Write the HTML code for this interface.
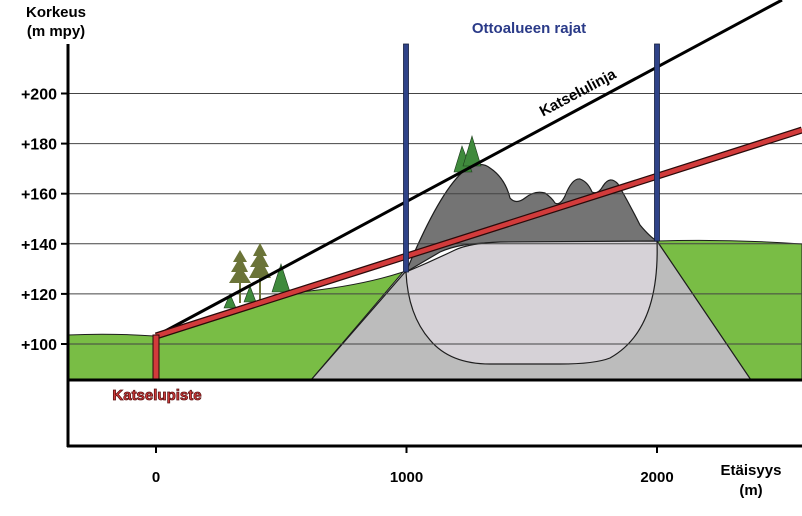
<!DOCTYPE html>
<html><head><meta charset="utf-8">
<style>
html,body{margin:0;padding:0;background:#fff;}
svg{display:block;font-family:"Liberation Sans","DejaVu Sans",sans-serif;}
</style></head>
<body>
<svg id="chart" width="802" height="516" viewBox="0 0 802 516">
  <g id="terrain">
    <path d="M68,335 Q110,333 154,336 L300,292 Q360,286 403,272 L311,380 L68,380 Z" fill="#79bd45" stroke="#1d1d1d" stroke-width="1"/>
    <path d="M657,241 Q730,239 802,244 L802,380 L751,380 Z" fill="#79bd45" stroke="#1d1d1d" stroke-width="1"/>
    <path d="M311,380 L406,271 L657,241 L751,380 Z" fill="#bcbcbc" stroke="#1d1d1d" stroke-width="1.2"/>
    <path d="M406,272 Q440,190 465,170 Q480,160 490,168 Q505,178 510,198 Q516,205 525,198 Q535,190 545,193 Q552,198 555,203 Q560,206 565,196 Q572,178 580,179 Q588,182 592,192 Q598,195 603,186 Q610,175 618,184 Q630,205 640,225 Q650,237 657,241 L490,243 Q460,243 440,252 Z" fill="#747474" stroke="#1d1d1d" stroke-width="1.2"/>
    <path d="M406,272 Q430,262 455,250 Q470,243 500,242 L657,241 Q660,330 610,358 Q595,364 560,364 L490,364 Q450,364 430,340 Q408,315 406,272 Z" fill="#d6d2d7" stroke="#1d1d1d" stroke-width="1.2"/>
  </g>
  <g id="grid"></g>
  <g id="trees">
    <g fill="#6b7438">
      <path d="M240,250 L233,262 L237,262 L231,272 L236,272 L229,283 L251,283 L244,272 L248,272 L243,262 L247,262 Z"/>
      <rect x="239" y="283" width="2" height="20"/>
      <path d="M260,243 L253,256 L257,256 L250,267 L255,267 L249,278 L271,278 L265,267 L269,267 L263,256 L267,256 Z"/>
      <rect x="259" y="278" width="2" height="22"/>
    </g>
    <g fill="#3f8a3c" stroke="#1d3d1d" stroke-width="0.6">
      <path d="M230,294 L224,308 L236,308 Z"/>
      <path d="M250,286 L244,302 L256,302 Z"/>
      <path d="M281,264 L272,292 L290,292 Z"/>
      <path d="M462,146 L454,172 L472,172 Z"/>
      <path d="M472,136 L463,166 L481,166 Z"/>
    </g>
  </g>
  <line x1="156" y1="336" x2="782" y2="0" stroke="#000" stroke-width="3"/>
  <g>
    <line x1="156" y1="336" x2="802" y2="130" stroke="#2a0a0a" stroke-width="7"/>
    <line x1="156" y1="336" x2="802" y2="130" stroke="#d23b3b" stroke-width="4.5"/>
    <rect x="153" y="335" width="6" height="45" fill="#d23b3b" stroke="#2a0a0a" stroke-width="1"/>
  </g>
  <g>
    <rect x="403.5" y="44" width="5" height="228" fill="#2f4388" stroke="#141e3e" stroke-width="0.8"/>
    <rect x="654.5" y="44" width="5" height="197" fill="#2f4388" stroke="#141e3e" stroke-width="0.8"/>
  </g>
  <line x1="68" y1="380" x2="802" y2="380" stroke="#000" stroke-width="3"/>
  <line x1="68" y1="44" x2="68" y2="447" stroke="#000" stroke-width="3"/>
  <line x1="67" y1="446" x2="802" y2="446" stroke="#000" stroke-width="3"/>
  <g id="yticks"></g>
  <g id="xticks"></g>
  <text x="56" y="17" font-size="15" font-weight="bold" text-anchor="middle">Korkeus</text>
  <text x="56" y="36" font-size="15" font-weight="bold" text-anchor="middle">(m mpy)</text>
  <text x="751" y="475" font-size="15" font-weight="bold" text-anchor="middle">Etäisyys</text>
  <text x="751" y="495" font-size="15" font-weight="bold" text-anchor="middle">(m)</text>
  <text x="529" y="33" font-size="15" font-weight="bold" fill="#2a3a88" text-anchor="middle">Ottoalueen rajat</text>
  <text x="580" y="97" font-size="15" font-weight="bold" text-anchor="middle" transform="rotate(-28 580 97)">Katselulinja</text>
  <text x="157" y="400" font-size="15" font-weight="bold" fill="#d23b3b" stroke="#5a1010" stroke-width="0.8" text-anchor="middle">Katselupiste</text>
</svg>
<script>
const yTickValues = [100, 120, 140, 160, 180, 200];
const yTickLabels = ["+100", "+120", "+140", "+160", "+180", "+200"];
const xTickValues = [0, 1000, 2000];
const xTickLabels = ["0", "1000", "2000"];
const NS = "http://www.w3.org/2000/svg";
function yScale(v){ return 344 - (v - 100) * 2.505; }
function xScale(d){ return 156 + d * 0.2505; }
const grid = document.getElementById("grid");
const yt = document.getElementById("yticks");
const xt = document.getElementById("xticks");
yTickValues.forEach((v, i) => {
  const y = yScale(v);
  const gl = document.createElementNS(NS, "line");
  
  
  gl.setAttribute("x1", 68); gl.setAttribute("x2", 802);
  gl.setAttribute("y1", y); gl.setAttribute("y2", y);
  gl.setAttribute("stroke", "#444"); gl.setAttribute("stroke-width", "1");
  grid.appendChild(gl);
  const tk = document.createElementNS(NS, "line");
  
  
  tk.setAttribute("x1", 61); tk.setAttribute("x2", 68);
  tk.setAttribute("y1", y); tk.setAttribute("y2", y);
  tk.setAttribute("stroke", "#000"); tk.setAttribute("stroke-width", "2");
  yt.appendChild(tk);
  const t = document.createElementNS(NS, "text");
  
  
  t.setAttribute("x", 57); t.setAttribute("y", y + 6);
  t.setAttribute("text-anchor", "end"); t.setAttribute("font-size", "16");
  t.setAttribute("font-weight", "bold");
  t.textContent = yTickLabels[i];
  yt.appendChild(t);
});
xTickValues.forEach((d, i) => {
  const x = xScale(d);
  const tk = document.createElementNS(NS, "line");
  
  
  tk.setAttribute("x1", x); tk.setAttribute("x2", x);
  tk.setAttribute("y1", 446); tk.setAttribute("y2", 453);
  tk.setAttribute("stroke", "#000"); tk.setAttribute("stroke-width", "2");
  xt.appendChild(tk);
  const t = document.createElementNS(NS, "text");
  
  
  t.setAttribute("x", x); t.setAttribute("y", 482);
  t.setAttribute("text-anchor", "middle"); t.setAttribute("font-size", "15");
  t.setAttribute("font-weight", "bold");
  t.textContent = xTickLabels[i];
  xt.appendChild(t);
});
</script>
</body></html>
